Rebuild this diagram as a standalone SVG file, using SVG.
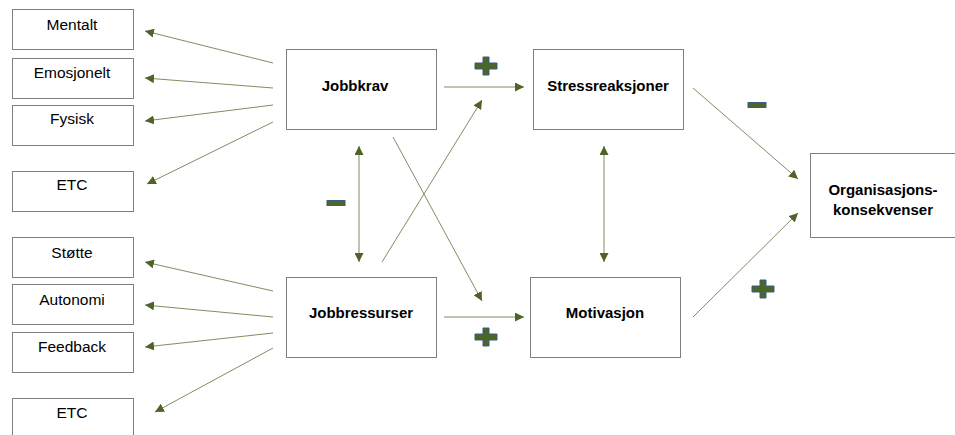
<svg xmlns="http://www.w3.org/2000/svg" width="955" height="435" viewBox="0 0 955 435">
<style>
.box{fill:#fff;stroke:#7f7f7f;stroke-width:1}
.t{font-family:"Liberation Sans",Arial,sans-serif;font-size:15.5px;fill:#000;text-anchor:middle}
.b{font-weight:bold;font-size:15px}
.c{fill:none;stroke:#7d8f62;stroke-width:1}
.sign{fill:#4a6629;stroke:#3d5a86;stroke-width:1}
</style>
<defs>
<marker id="ah" viewBox="0 0 10 10" refX="10" refY="5" markerWidth="9" markerHeight="9" markerUnits="userSpaceOnUse" orient="auto-start-reverse">
<path d="M0,0 L10,5 L0,10 Z" fill="#4f6228"/>
</marker>
</defs>
<rect width="955" height="435" fill="#fff"/>
<g id="mentalt"><rect class="box" x="12.5" y="9.5" width="121" height="40"/><text class="t" x="72" y="30">Mentalt</text></g>
<g id="emosjonelt"><rect class="box" x="12.5" y="58.5" width="121" height="40"/><text class="t" x="72" y="78">Emosjonelt</text></g>
<g id="fysisk"><rect class="box" x="12.5" y="105.5" width="121" height="40"/><text class="t" x="72" y="124">Fysisk</text></g>
<g id="etc1"><rect class="box" x="12.5" y="171.5" width="121" height="40"/><text class="t" x="72" y="190">ETC</text></g>
<g id="stotte"><rect class="box" x="12.5" y="237.5" width="121" height="40"/><text class="t" x="72" y="258">Støtte</text></g>
<g id="autonomi"><rect class="box" x="12.5" y="284.5" width="121" height="40"/><text class="t" x="72" y="305">Autonomi</text></g>
<g id="feedback"><rect class="box" x="12.5" y="332.5" width="121" height="40"/><text class="t" x="72" y="352">Feedback</text></g>
<g id="etc2"><rect class="box" x="12.5" y="398.5" width="121" height="45"/><text class="t" x="72" y="418">ETC</text></g>
<g id="jobbkrav"><rect class="box" x="286.5" y="49.5" width="150" height="80"/><text class="t b" x="355" y="91">Jobbkrav</text></g>
<g id="stressreaksjoner"><rect class="box" x="533.5" y="49.5" width="150" height="80"/><text class="t b" x="608" y="91">Stressreaksjoner</text></g>
<g id="jobbressurser"><rect class="box" x="286.5" y="277.5" width="150" height="80"/><text class="t b" x="361" y="318">Jobbressurser</text></g>
<g id="motivasjon"><rect class="box" x="530.5" y="277.5" width="150" height="80"/><text class="t b" x="605" y="318">Motivasjon</text></g>
<g id="organisasjonskonsekvenser"><rect class="box" x="810.5" y="153.5" width="160" height="84"/><text class="t b" x="883" y="195">Organisasjons-</text><text class="t b" x="883" y="215">konsekvenser</text></g>
<g id="connectors">
<line class="c" x1="273" y1="63" x2="145" y2="31" marker-end="url(#ah)"/>
<line class="c" x1="273" y1="88" x2="145" y2="78" marker-end="url(#ah)"/>
<line class="c" x1="273" y1="105" x2="145" y2="121" marker-end="url(#ah)"/>
<line class="c" x1="273" y1="122" x2="147" y2="184" marker-end="url(#ah)"/>
<line class="c" x1="273" y1="291" x2="145" y2="262" marker-end="url(#ah)"/>
<line class="c" x1="273" y1="317" x2="145" y2="305" marker-end="url(#ah)"/>
<line class="c" x1="273" y1="333" x2="145" y2="347" marker-end="url(#ah)"/>
<line class="c" x1="273" y1="348" x2="155" y2="412" marker-end="url(#ah)"/>
<line class="c" x1="444" y1="87" x2="524" y2="87" marker-end="url(#ah)"/>
<line class="c" x1="444" y1="317" x2="524" y2="317" marker-end="url(#ah)"/>
<line class="c" x1="382" y1="262" x2="482" y2="100" marker-end="url(#ah)"/>
<line class="c" x1="393" y1="137" x2="482" y2="301" marker-end="url(#ah)"/>
<line class="c" x1="359" y1="146" x2="359" y2="262" marker-start="url(#ah)" marker-end="url(#ah)"/>
<line class="c" x1="604" y1="146" x2="604" y2="262" marker-start="url(#ah)" marker-end="url(#ah)"/>
<line class="c" x1="693" y1="88" x2="798" y2="179" marker-end="url(#ah)"/>
<line class="c" x1="693" y1="317" x2="798" y2="213" marker-end="url(#ah)"/>
</g>
<g id="signs">
<path class="sign" d="M483,57 h6 v6 h8 v6 h-8 v6 h-6 v-6 h-8 v-6 h8 Z"/>
<path class="sign" d="M483,328 h6 v6 h8 v6 h-8 v6 h-6 v-6 h-8 v-6 h8 Z"/>
<path class="sign" d="M760,280 h6 v6 h8 v6 h-8 v6 h-6 v-6 h-8 v-6 h8 Z"/>
<rect class="sign" x="327" y="200.5" width="18" height="5"/>
<rect class="sign" x="748" y="102.5" width="18" height="5"/>
</g>
</svg>
